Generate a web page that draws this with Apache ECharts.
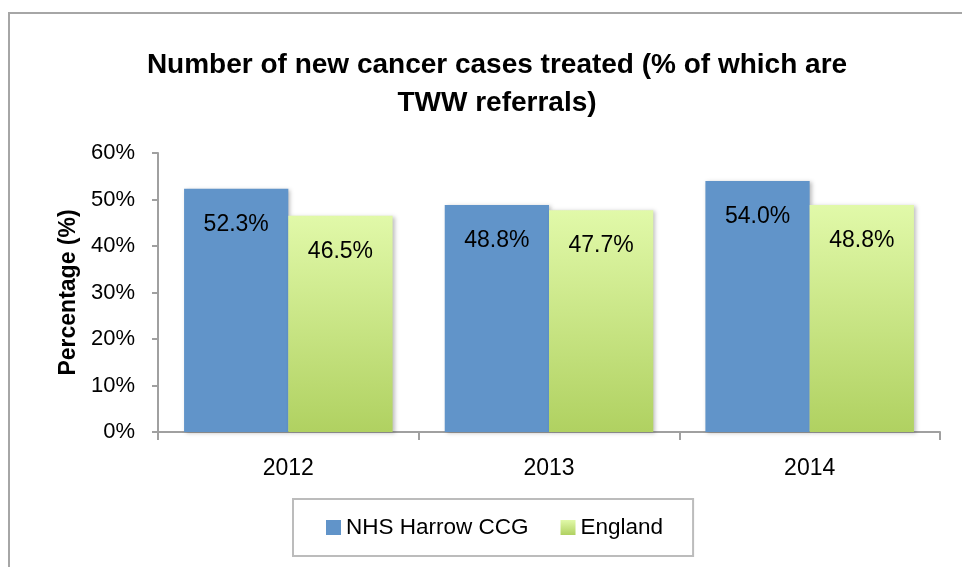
<!DOCTYPE html>
<html>
<head>
<meta charset="utf-8">
<script src="https://cdn.jsdelivr.net/npm/echarts@6/dist/echarts.min.js"></script>
<style>
  html, body { margin: 0; padding: 0; background: #fff; }
  #frame { position: absolute; left: 8px; top: 12px; width: 980px; height: 600px; border: 2px solid #a6a6a6; box-sizing: border-box; }
  #chart { position: absolute; left: 0; top: 0; width: 962px; height: 567px; }
</style>
</head>
<body>
<div id="frame"></div>
<div id="chart"></div>
<script>
const years = ['2012', '2013', '2014']
const harrow = [52.3, 48.8, 54.0]
const england = [46.5, 47.7, 48.8]
const yTicks = [0, 10, 20, 30, 40, 50, 60]

const FONT = '"Liberation Sans", Arial, sans-serif'
const chart = echarts.init(document.getElementById('chart'))

const labelStyle = {
  show: true,
  position: 'insideTop',
  distance: 24,
  color: '#000',
  fontSize: 23,
  fontFamily: FONT,
  formatter: p => p.value.toFixed(1) + '%'
}
const shadow = { shadowBlur: 4, shadowOffsetX: 2, shadowOffsetY: 1, shadowColor: 'rgba(0,0,0,0.25)' }

chart.setOption({
  animation: false,
  textStyle: { fontFamily: FONT },
  title: {
    text: 'Number of new cancer cases treated (% of which are\nTWW referrals)',
    left: 492,
    textAlign: 'center',
    top: 41,
    textStyle: { fontSize: 28, fontWeight: 'bold', color: '#000', lineHeight: 38, fontFamily: FONT }
  },
  legend: {
    left: 293,
    top: 499,
    padding: [17, 30, 17, 33],
    itemGap: 32,
    itemWidth: 15,
    itemHeight: 15,
    itemTextGap: 8,
    borderColor: '#bcbcbc',
    borderWidth: 2,
    textStyle: { fontSize: 22.5, color: '#000', fontFamily: FONT },
    data: [
      { name: 'NHS Harrow CCG', icon: 'rect' },
      { name: 'England', icon: 'rect' }
    ]
  },
  grid: { left: 158, right: 22, top: 153, bottom: 135 },
  xAxis: {
    type: 'category',
    data: years,
    axisLine: { lineStyle: { color: '#a0a0a0', width: 2 } },
    axisTick: { show: true, length: 8, lineStyle: { color: '#a0a0a0', width: 2 } },
    axisLabel: { fontSize: 23, color: '#000', margin: 25 }
  },
  yAxis: {
    type: 'value',
    min: yTicks[0],
    max: yTicks[yTicks.length - 1],
    interval: 10,
    name: 'Percentage (%)',
    nameLocation: 'middle',
    nameGap: 77,
    nameTextStyle: { fontSize: 23, fontWeight: 'bold', color: '#000' },
    axisLine: { show: true, lineStyle: { color: '#a0a0a0', width: 2 } },
    axisTick: { show: true, length: 6, lineStyle: { color: '#a0a0a0', width: 2 } },
    axisLabel: { fontSize: 22, color: '#000', margin: 23, formatter: v => v + '%' },
    splitLine: { show: false }
  },
  series: [
    {
      name: 'NHS Harrow CCG',
      type: 'bar',
      data: harrow,
      barGap: '0%',
      barCategoryGap: '20%',
      itemStyle: Object.assign({ color: '#6194c9' }, shadow),
      label: labelStyle
    },
    {
      name: 'England',
      type: 'bar',
      data: england,
      itemStyle: Object.assign({
        color: new echarts.graphic.LinearGradient(0, 0, 0, 1, [
          { offset: 0, color: '#e1f9a9' },
          { offset: 1, color: '#b0d161' }
        ])
      }, shadow),
      label: labelStyle
    }
  ]
})
</script>
</body>
</html>
